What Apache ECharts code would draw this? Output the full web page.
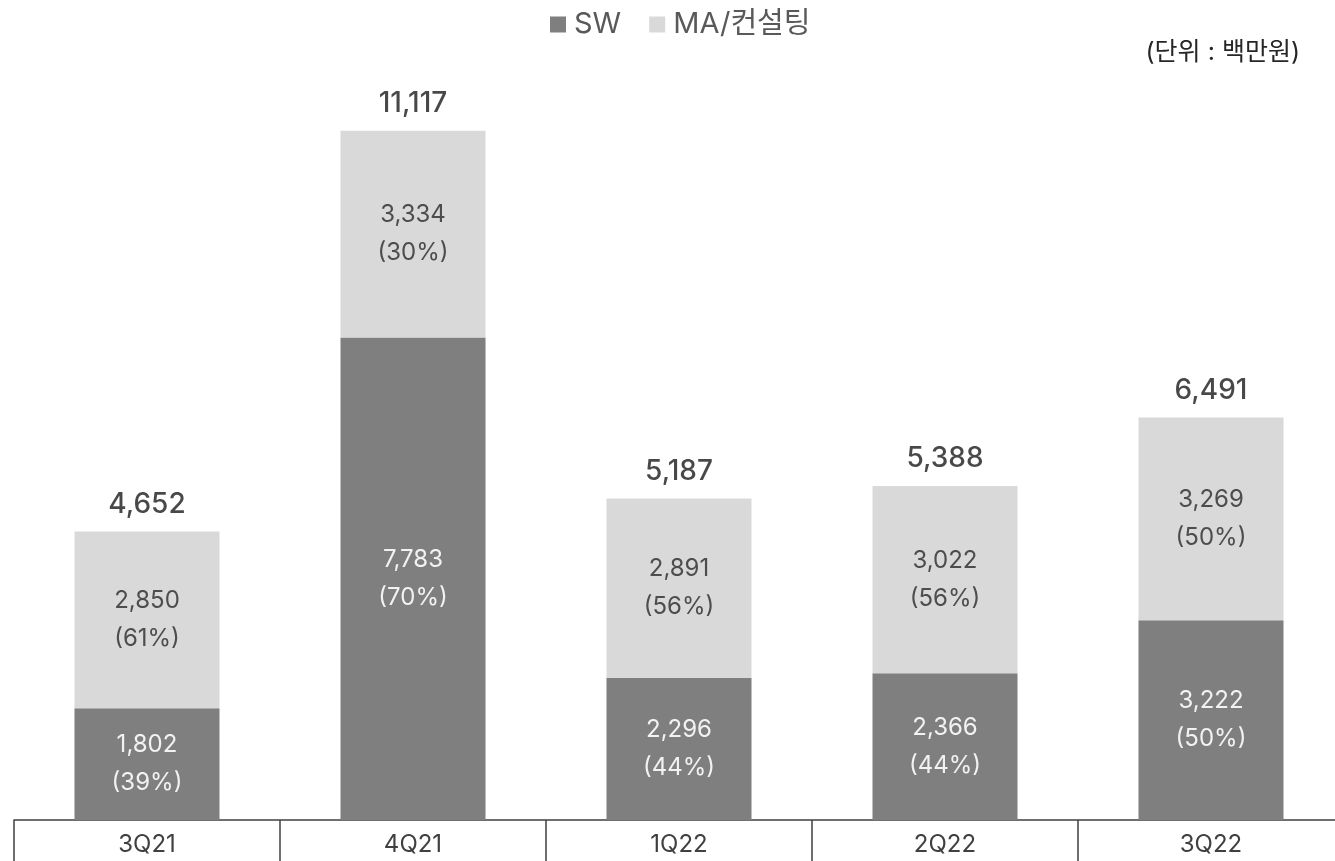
<!DOCTYPE html>
<html>
<head>
<meta charset="utf-8">
<script src="https://cdn.jsdelivr.net/npm/echarts@6/dist/echarts.min.js"></script>
<style>
  html, body { margin: 0; padding: 0; background: #fff; }
  #chart { width: 1335px; height: 861px; }
</style>
</head>
<body>
<div id="chart"></div>
<script>
const categories = ['3Q21', '4Q21', '1Q22', '2Q22', '3Q22'];
const swValues = [1802, 7783, 2296, 2366, 3222];
const maValues = [2850, 3334, 2891, 3022, 3269];
const swPct = [39, 70, 44, 44, 50];
const maPct = [61, 30, 56, 56, 50];
// 합계 = SW + MA/컨설팅
const totals = swValues.map((v, i) => v + maValues[i]);

const FONT = 'Inter, "Noto Sans CJK KR", sans-serif';
const fmt = v => v.toLocaleString('en-US');

const myChart = echarts.init(document.getElementById('chart'));
myChart.setOption({
    animation: false,
    textStyle: { fontFamily: FONT },
    legend: {
        top: 5,
        left: 545,
        data: ['SW', 'MA/컨설팅'],
        itemWidth: 16,
        itemHeight: 16,
        itemGap: 28,
        icon: 'rect',
        textStyle: { fontSize: 29, color: '#595959', fontFamily: FONT, padding: [0, 0, 0, 3] }
    },
    graphic: [{
        type: 'text',
        right: 35,
        top: 40,
        style: { text: '(단위 : 백만원)', fontSize: 25, fill: '#262626', fontFamily: FONT }
    }],
    // 축이 오른쪽 밖으로 조금 나가도록 width 지정
    grid: { left: 14, width: 1330, top: 76, bottom: 41, outerBoundsMode: 'none' },
    xAxis: {
        type: 'category',
        data: categories,
        axisLine: { lineStyle: { color: '#404040', width: 1.5 } },
        axisTick: { show: true, length: 41, lineStyle: { color: '#404040', width: 1.5 } },
        axisLabel: { fontSize: 24, color: '#404040', margin: 13, fontFamily: FONT }
    },
    yAxis: {
        type: 'value',
        min: 0,
        max: 12000,
        show: false,
        splitLine: { show: false }
    },
    series: [
        {
            name: 'SW',
            type: 'bar',
            stack: 'total',
            barWidth: 145,
            itemStyle: { color: '#7f7f7f' },
            label: {
                show: true,
                position: 'inside',
                color: '#f2f2f2',
                fontSize: 24,
                lineHeight: 38,
                fontFamily: FONT,
                formatter: p => fmt(p.value) + '\n(' + swPct[p.dataIndex] + '%)'
            },
            data: swValues
        },
        {
            name: 'MA/컨설팅',
            type: 'bar',
            stack: 'total',
            barWidth: 145,
            itemStyle: { color: '#d9d9d9' },
            label: {
                show: true,
                position: 'inside',
                color: '#4d4d4d',
                fontSize: 24,
                lineHeight: 38,
                fontFamily: FONT,
                formatter: p => fmt(p.value) + '\n(' + maPct[p.dataIndex] + '%)'
            },
            data: maValues
        },
        {
            name: '합계',
            type: 'scatter',
            symbolSize: 0,
            silent: true,
            label: {
                show: true,
                position: 'top',
                distance: 13,
                color: '#1a1a1a',
                fontSize: 28,
                fontWeight: 500,
                fontFamily: FONT,
                formatter: p => fmt(p.value)
            },
            data: totals
        }
    ]
});
</script>
</body>
</html>
